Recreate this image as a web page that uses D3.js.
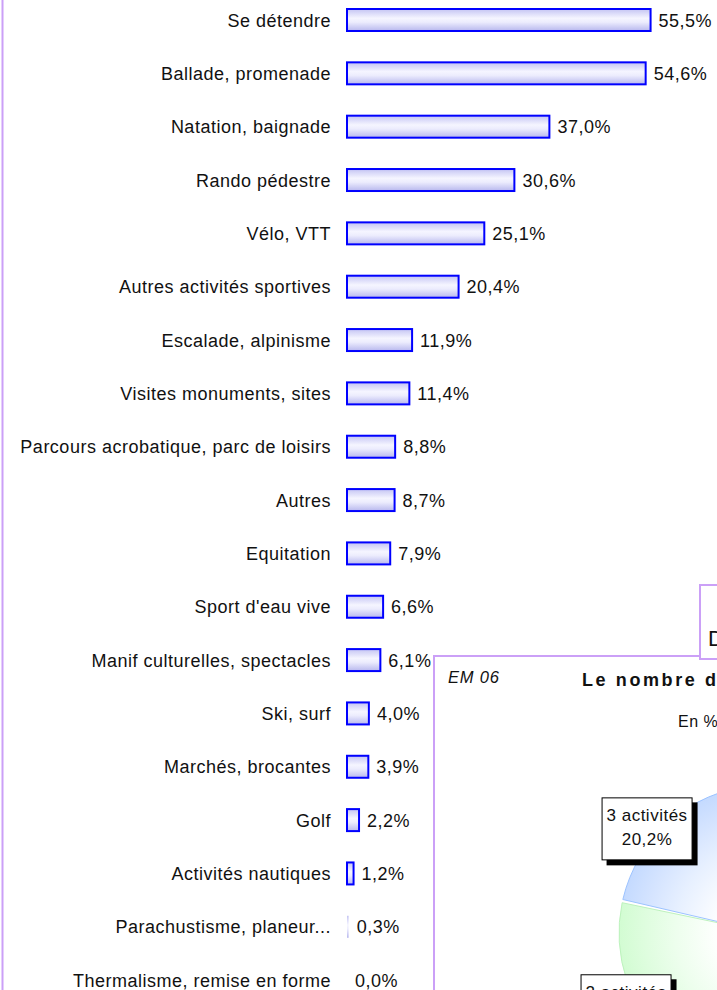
<!DOCTYPE html>
<html lang="fr">
<head>
<meta charset="utf-8">
<script src="https://cdn.jsdelivr.net/npm/d3@7"></script>
<style>
  html, body { margin: 0; padding: 0; background: #fff; }
  svg { display: block; font-family: "Liberation Sans", Arial, sans-serif; }
</style>
</head>
<body>
<svg id="chart" width="717" height="990"></svg>
<script>
// Activités pratiquées (en %)
const categories = [
  "Se détendre", "Ballade, promenade", "Natation, baignade", "Rando pédestre",
  "Vélo, VTT", "Autres activités sportives", "Escalade, alpinisme",
  "Visites monuments, sites", "Parcours acrobatique, parc de loisirs", "Autres",
  "Equitation", "Sport d'eau vive", "Manif culturelles, spectacles", "Ski, surf",
  "Marchés, brocantes", "Golf", "Activités nautiques", "Parachustisme, planeur...",
  "Thermalisme, remise en forme"
];
const values = [55.5, 54.6, 37.0, 30.6, 25.1, 20.4, 11.9, 11.4, 8.8, 8.7, 7.9, 6.6, 6.1, 4.0, 3.9, 2.2, 1.2, 0.3, 0.0];

// EM 06 : nombre d'activités pratiquées (en %)
const pieCategories = ["1 activité", "2 activités", "3 activités", "4 activités et plus"];
const pieValues = [40.0, 17.4, 20.2, 22.4];
const pieColors = ["#fff6c4", "#d2fcd2", "#c4daff", "#ffd8e6"];
const pieEdges = ["#f0e08a", "#bdf2bd", "#9cc3ff", "#f5b5cc"];

const panelTitle = "Le nombre d'activités pratiquées";
const panelCode = "EM 06";
const panelUnit = "En %";
const nextPanelTitle = "D";

const fr = d3.formatLocale({decimal: ",", thousands: " ", grouping: [3], currency: ["", " €"]});
const pct = v => fr.format(".1f")(v) + "%";

const svg = d3.select("#chart");
const W = 717, H = 990;
const lavender = "#cba0f7";

svg.append("rect").attr("width", W).attr("height", H).attr("fill", "#fff");

const defs = svg.append("defs");
const barGrad = defs.append("linearGradient")
  .attr("id", "barGrad").attr("x1", 0).attr("y1", 0).attr("x2", 0).attr("y2", 1);
[[0, "#c4c4f3"], [0.42, "#f5f5ff"], [0.6, "#ececfd"], [1, "#b7b7ee"]]
  .forEach(([o, c]) => barGrad.append("stop").attr("offset", o).attr("stop-color", c));

// ---- Bar chart -------------------------------------------------------
const x = d3.scaleLinear().domain([0, 60]).range([347, 675.2]);
const y = d3.scaleBand()
  .domain(categories)
  .range([-6.67, 1006.8])
  .paddingInner(0.5876)
  .paddingOuter(0.5876 / 2);

const rows = categories.map((c, i) => ({c, v: values[i]}));
const bars = svg.append("g");

bars.selectAll("rect.bar").data(rows).join("rect")
  .attr("class", "bar")
  .attr("x", x(0))
  .attr("y", d => y(d.c))
  .attr("width", d => x(d.v) - x(0))
  .attr("height", y.bandwidth())
  .attr("fill", "url(#barGrad)")
  .attr("stroke", d => (x(d.v) - x(0)) >= 2 ? "#0000ff" : "none")
  .attr("stroke-width", 2);

bars.selectAll("text.cat").data(rows).join("text")
  .attr("class", "cat")
  .attr("x", 331)
  .attr("y", d => y(d.c) + y.bandwidth() / 2 + 6.5)
  .attr("text-anchor", "end")
  .attr("font-size", 18)
  .attr("letter-spacing", 0.5)
  .attr("fill", "#111")
  .text(d => d.c);

bars.selectAll("text.val").data(rows).join("text")
  .attr("class", "val")
  .attr("x", d => x(d.v) + 8)
  .attr("y", d => y(d.c) + y.bandwidth() / 2 + 6.5)
  .attr("font-size", 18)
  .attr("letter-spacing", 0.5)
  .attr("fill", "#111")
  .text(d => pct(d.v));

// left frame of the bar panel
svg.append("line")
  .attr("x1", 2.5).attr("x2", 2.5).attr("y1", 0).attr("y2", H)
  .attr("stroke", lavender).attr("stroke-width", 2);

// ---- Pie panel ---------------------------------------------------------
const panel = svg.append("g");
panel.append("rect")
  .attr("x", 434).attr("y", 656).attr("width", 320).attr("height", 360)
  .attr("fill", "#fff").attr("stroke", lavender).attr("stroke-width", 2);

panel.append("text")
  .attr("x", 448).attr("y", 683)
  .attr("font-size", 16.5).attr("font-style", "italic").attr("letter-spacing", 0.8)
  .attr("fill", "#111").text(panelCode);

panel.append("text")
  .attr("x", 582).attr("y", 686)
  .attr("font-size", 18).attr("font-weight", "bold").attr("letter-spacing", 2.6)
  .attr("fill", "#111").text(panelTitle);

panel.append("text")
  .attr("x", 678).attr("y", 727)
  .attr("font-size", 16).attr("letter-spacing", 0.5)
  .attr("fill", "#111").text(panelUnit);

const cx = 767, cy = 933, r = 148;
const startDeg = 75.8;
const pie = d3.pie().sort(null)
  .startAngle(startDeg * Math.PI / 180)
  .endAngle(startDeg * Math.PI / 180 + 2 * Math.PI);
const arcs = pie(pieValues).map((a, i) => ({...a, name: pieCategories[i], i}));
const arc = d3.arc().innerRadius(0).outerRadius(r).padAngle(0.022).padRadius(r);

// each slice fades from white near the centre to its colour at the rim
// (gradient space is the pie group's own, centred on 0,0)
arcs.forEach(a => {
  const g = defs.append("radialGradient")
    .attr("id", "slice" + a.i)
    .attr("gradientUnits", "userSpaceOnUse")
    .attr("cx", 0).attr("cy", 0).attr("r", r);
  const mix = d3.interpolateRgb("#ffffff", pieColors[a.i]);
  [[0.35, 0.05], [0.62, 0.4], [0.82, 0.72], [1, 1]].forEach(([o, t]) =>
    g.append("stop").attr("offset", o).attr("stop-color", mix(t)));
});

const pieG = panel.append("g").attr("transform", `translate(${cx},${cy})`);
pieG.selectAll("path").data(arcs).join("path")
  .attr("d", arc)
  .attr("fill", d => `url(#slice${d.i})`)
  .attr("stroke", d => pieEdges[d.i])
  .attr("stroke-width", 1);

// slice labels: boxed, with a drop shadow, anchored by their inner corner
const labelR = 104, labelShift = -4.5 * Math.PI / 180;
const boxW = 91, boxH = 63, shadow = 5;
arcs.forEach(a => {
  const ang = (a.startAngle + a.endAngle) / 2 + labelShift;
  const ax = cx + labelR * Math.sin(ang);
  const ay = cy - labelR * Math.cos(ang);
  const bx = ax < cx ? ax - boxW : ax;
  const by = ay < cy ? ay - boxH : ay;
  const lg = panel.append("g");
  lg.append("rect").attr("x", bx + shadow).attr("y", by + shadow)
    .attr("width", boxW).attr("height", boxH).attr("fill", "#000");
  lg.append("rect").attr("x", bx + 0.5).attr("y", by + 0.5)
    .attr("width", boxW - 1).attr("height", boxH - 1)
    .attr("fill", "#fff").attr("stroke", "#000").attr("stroke-width", 1);
  [a.name, pct(a.data)].forEach((t, k) => {
    lg.append("text")
      .attr("x", bx + boxW / 2).attr("y", by + 24 + k * 24)
      .attr("text-anchor", "middle")
      .attr("font-size", 17).attr("letter-spacing", 0.5)
      .attr("fill", "#111").text(t);
  });
});

// neighbouring panel heading
const next = svg.append("g");
next.append("rect")
  .attr("x", 700).attr("y", 585).attr("width", 60).attr("height", 74)
  .attr("fill", "#fff").attr("stroke", lavender).attr("stroke-width", 2);
next.append("text")
  .attr("x", 708).attr("y", 646)
  .attr("font-size", 22).attr("fill", "#111").text(nextPanelTitle);
</script>
</body>
</html>
